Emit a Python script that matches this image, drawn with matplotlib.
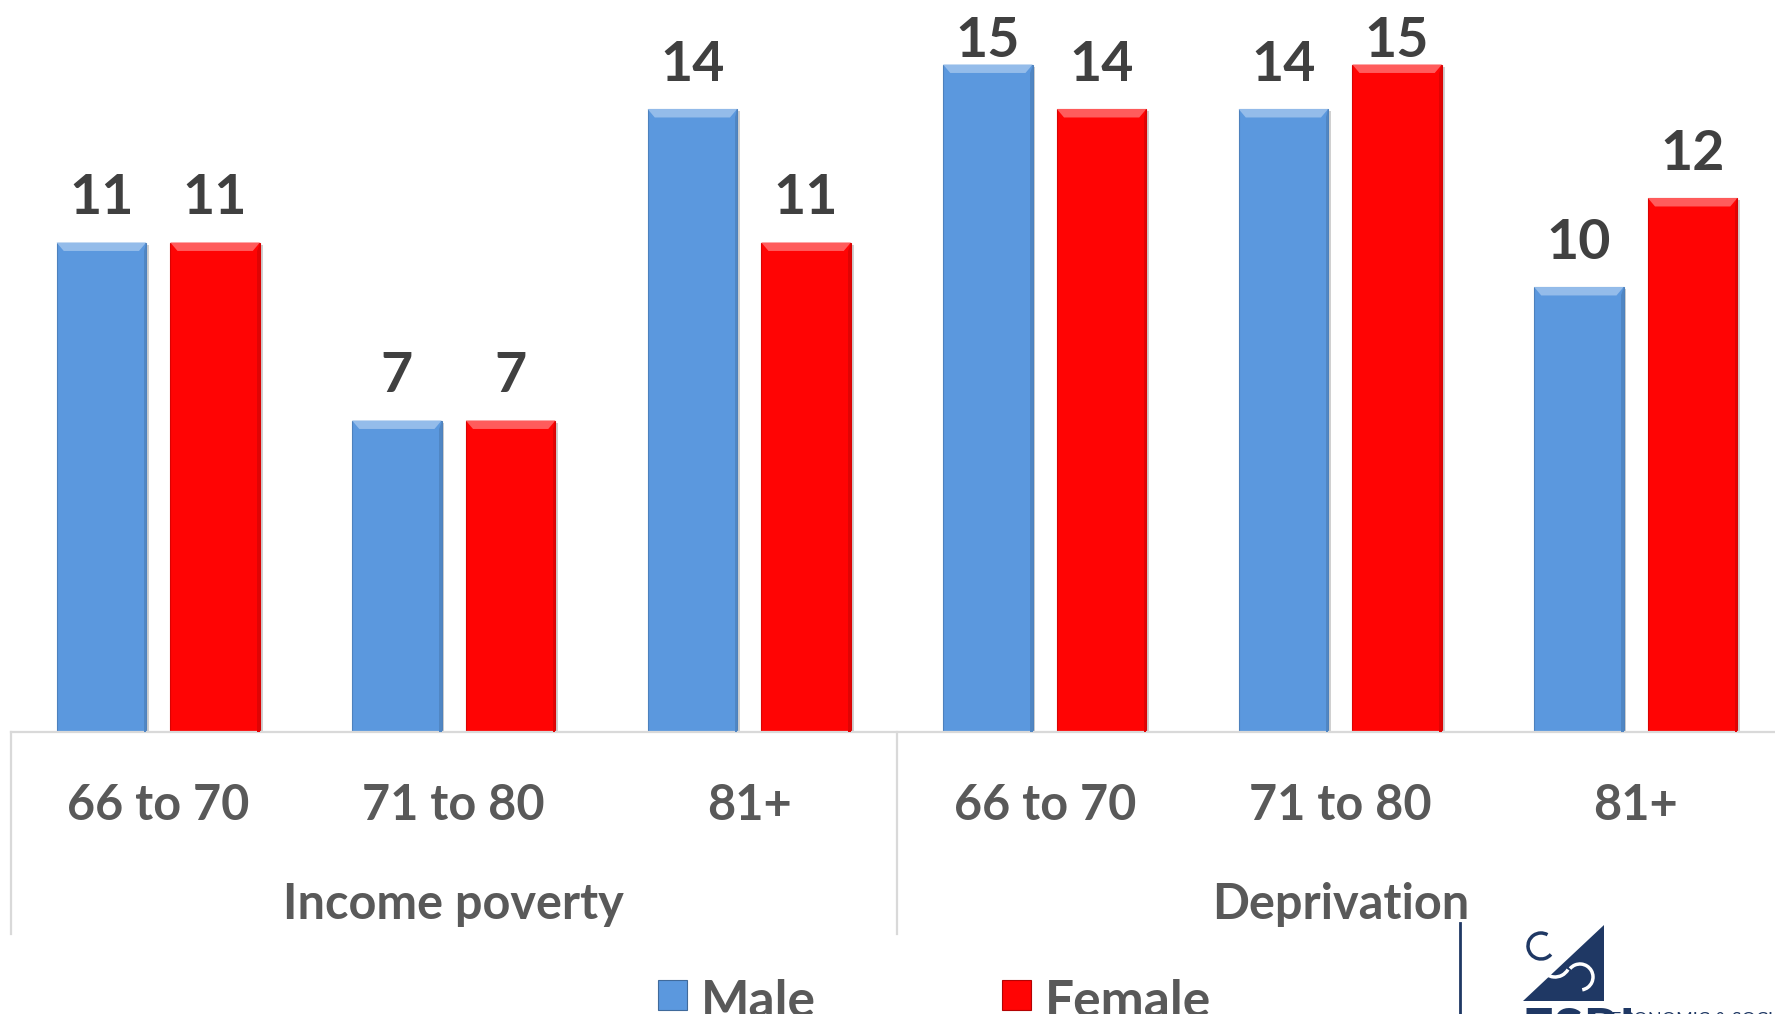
import matplotlib
matplotlib.use("Agg")
import matplotlib.pyplot as plt
from matplotlib.patches import Polygon, Rectangle, Arc
from matplotlib.lines import Line2D
import matplotlib.transforms as mtransforms

plt.rcParams['font.family'] = ['Lato', 'DejaVu Sans']

# Data
age_bands = ["66 to 70", "71 to 80", "81+", "66 to 70", "71 to 80", "81+"]
groups = ["Income poverty", "Deprivation"]
male = [11, 7, 14, 15, 14, 10]
female = [11, 7, 11, 14, 15, 12]

MALE_COLOR = "#5B98DE"
FEMALE_COLOR = "#FF0404"
TEXT_DARK = "#404040"
TEXT_GRAY = "#595959"
NAVY = "#1F3864"

W, H = 1775, 1014
fig = plt.figure(figsize=(W / 100, H / 100), dpi=100)

ax_left, ax_right = 10.5, 1783.5
ax_base = 732
ax = fig.add_axes([ax_left / W, (H - ax_base) / H, (ax_right - ax_left) / W, ax_base / H])
ax.set_xlim(-0.5, 5.5)
ax.set_ylim(0, 16.45)

bar_w = 0.303
off = 0.1925
xs = list(range(len(age_bands)))


def lighten(c, f):
    r, g, b = matplotlib.colors.to_rgb(c)
    return (r + (1 - r) * f, g + (1 - g) * f, b + (1 - b) * f)


def darken(c, f):
    r, g, b = matplotlib.colors.to_rgb(c)
    return (r * (1 - f), g * (1 - f), b * (1 - f))


def bevel(bars, color):
    # light chamfer along the top and a darker strip along the right side
    dy = 0.19
    for p in bars:
        x0, w, h = p.get_x(), p.get_width(), p.get_height()
        x1 = x0 + w
        dx = w * 0.08
        ax.add_patch(Polygon([(x0, h), (x1, h), (x1 - dx, h - dy), (x0 + dx, h - dy)],
                             closed=True, facecolor=lighten(color, 0.35),
                             edgecolor='none', zorder=3))
        ax.add_patch(Polygon([(x1, h), (x1, 0), (x1 - dx * 0.35, 0), (x1 - dx * 0.35, h - dy)],
                             closed=True, facecolor=darken(color, 0.12),
                             edgecolor='none', zorder=3))
        # soft shadow to the right
        ax.add_patch(Rectangle((x1, 0), w * 0.03, h - 0.05, facecolor="#D0D0D0",
                               edgecolor='none', zorder=1))


bm = ax.bar([x - off for x in xs], male, width=bar_w, color=MALE_COLOR,
            edgecolor=darken(MALE_COLOR, 0.15), linewidth=0.8, zorder=2, label="Male")
bf = ax.bar([x + off for x in xs], female, width=bar_w, color=FEMALE_COLOR,
            edgecolor=darken(FEMALE_COLOR, 0.15), linewidth=0.8, zorder=2, label="Female")
bevel(bm, MALE_COLOR)
bevel(bf, FEMALE_COLOR)

# Value labels: sit above the bar, but are kept inside the plot area at the top
label_gap = 0.63
label_cap = 15.18
for bars, vals in ((bm, male), (bf, female)):
    for p, v in zip(bars, vals):
        ax.text(p.get_x() + p.get_width() / 2, min(v + label_gap, label_cap), f"{v}",
                ha="center", va="baseline", fontsize=40, fontweight="bold",
                color=TEXT_DARK)

# Axes styling
for s in ("top", "right", "left"):
    ax.spines[s].set_visible(False)
ax.spines["bottom"].set_color("#D9D9D9")
ax.spines["bottom"].set_linewidth(1.6)
ax.set_yticks([])
ax.set_xticks([])

# Category labels and group labels
tr = mtransforms.blended_transform_factory(ax.transData, ax.transAxes)
for x, lab in zip(xs, age_bands):
    ax.text(x, -88 / ax_base, lab, transform=tr, ha="center", va="baseline",
            fontsize=35, fontweight="bold", color=TEXT_GRAY)
for gi, g in enumerate(groups):
    ax.text(gi * 3 + 1, -187 / ax_base, g, transform=tr, ha="center", va="baseline",
            fontsize=35, fontweight="bold", color=TEXT_GRAY)
for xb in (-0.5, 2.5):
    ax.add_line(Line2D([xb, xb], [0, -(934 - ax_base) / ax_base], transform=tr,
                       color="#D9D9D9", linewidth=1.6, clip_on=False))


def fig_px(x, y):
    return x / W, 1 - y / H


# Legend
leg_items = [("Male", MALE_COLOR, 658), ("Female", FEMALE_COLOR, 1002)]
for name, col, xl in leg_items:
    x0, y0 = fig_px(xl, 1010)
    fig.add_artist(Rectangle((x0, y0), 29 / W, 30 / H, transform=fig.transFigure,
                             facecolor=col, edgecolor=darken(col, 0.3), linewidth=0.8))
    fig.text(*fig_px(xl + 43, 1017), name, ha="left", va="baseline",
             fontsize=37, fontweight="bold", color=TEXT_GRAY)

# Institute logo in the corner
fig.add_artist(Line2D([1460 / W, 1460 / W], [0, 1 - 923 / H], transform=fig.transFigure,
                      color=NAVY, linewidth=2))
fig.add_artist(Polygon([fig_px(1523, 1001), fig_px(1604, 1001), fig_px(1604, 925)],
                       closed=True, transform=fig.transFigure, facecolor=NAVY, edgecolor='none'))
logo_tr = fig.dpi_scale_trans
fig.add_artist(Arc((1541 / 100, (H - 946) / 100), 0.26, 0.26, theta1=60, theta2=320,
                   transform=logo_tr, color=NAVY, linewidth=2.5))
fig.add_artist(Arc((1555 / 100, (H - 962) / 100), 0.30, 0.30, theta1=200, theta2=330,
                   transform=logo_tr, color="white", linewidth=2.5))
fig.add_artist(Arc((1580 / 100, (H - 977) / 100), 0.26, 0.26, theta1=-80, theta2=140,
                   transform=logo_tr, color="white", linewidth=2.5))
fig.text(*fig_px(1611, 1025), "ECONOMIC & SOCIAL", ha="left", va="baseline",
         fontsize=13, color=NAVY)
fig.text(*fig_px(1521, 1048), "ESRI", ha="left", va="baseline",
         fontsize=40, fontweight="bold", color=NAVY)

fig.savefig("out.png", dpi=100)
